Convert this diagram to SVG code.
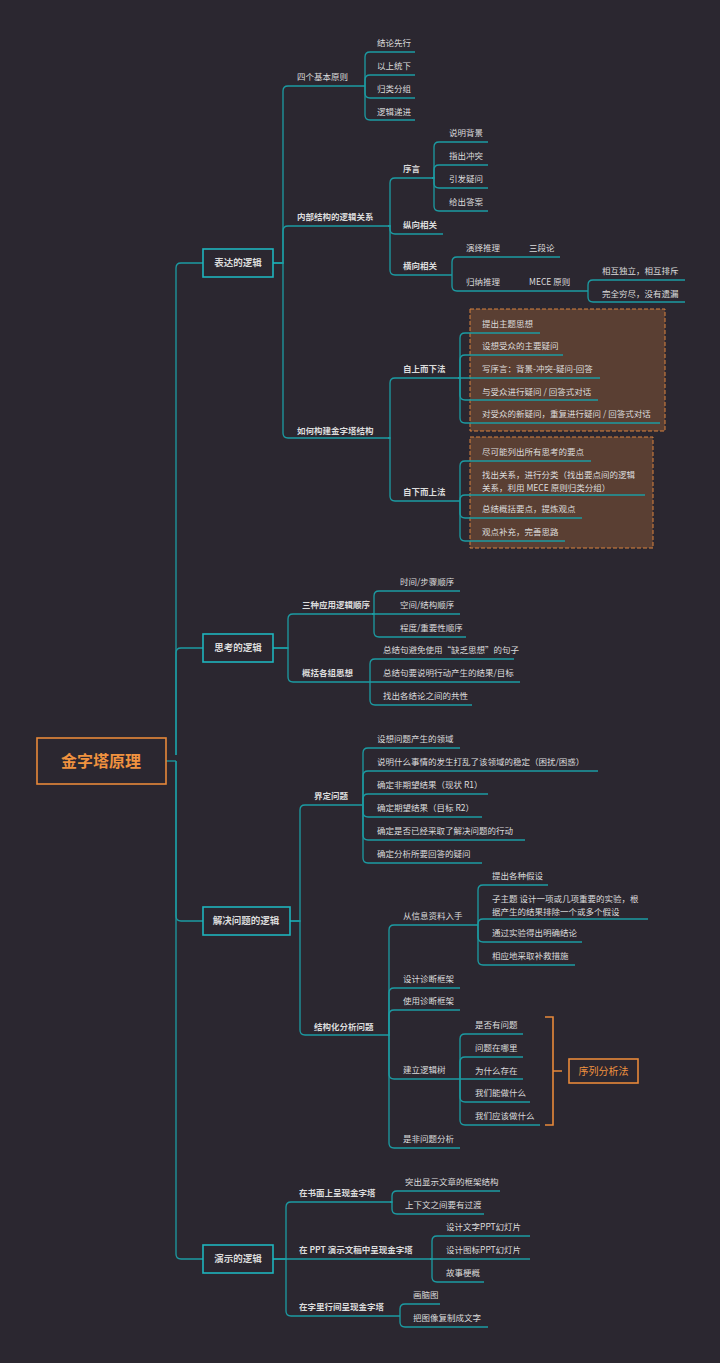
<svg xmlns="http://www.w3.org/2000/svg" width="720" height="1363" viewBox="0 0 720 1363">
<style>
text{font-family:"Noto Sans CJK SC","Noto Sans",sans-serif;font-size:8.5px;fill:#dcdcdc}
.b{font-weight:bold}
.c path{fill:none;stroke:#1c9ca3;stroke-width:1.3}
.l1 rect{fill:#2b2730;stroke:#1fb5bd;stroke-width:1.6}
.l1 text{font-size:9.5px;font-weight:bold;text-anchor:middle}
.dash{fill:#5a3f33;stroke:#d9833f;stroke-dasharray:4 2;stroke-width:1}
</style>
<rect width="720" height="1363" fill="#2b2730"/>
<rect class="dash" x="470" y="309" width="195" height="122"/>
<rect class="dash" x="470" y="437" width="183" height="111"/>
<g class="c">
<path d="M166 761H176"/>
<path d="M176 755V268Q176 263 181 263H203"/>
<path d="M176 755V653Q176 648 181 648H203"/>
<path d="M176 761V916Q176 921 181 921H203"/>
<path d="M176 761V1254Q176 1259 181 1259H203"/>
<path d="M273 263H283V91Q283 86 288 86H365"/>
<path d="M273 263H283V231Q283 226 288 226H388"/>
<path d="M273 263H283V433Q283 438 288 438H388"/>
<path d="M365 86V57Q365 52 370 52H415"/>
<path d="M365 86V80Q365 75 370 75H415"/>
<path d="M365 86V93Q365 98 370 98H415"/>
<path d="M365 86V115Q365 120 370 120H415"/>
<path d="M388 226H390V183Q390 178 395 178H432"/>
<path d="M388 226H390V229Q390 234 395 234H443"/>
<path d="M388 226H390V270Q390 275 395 275H452"/>
<path d="M432 178H434V147Q434 142 439 142H488"/>
<path d="M432 178H434V170Q434 165 439 165H488"/>
<path d="M432 178H434V183Q434 188 439 188H488"/>
<path d="M432 178H434V206Q434 211 439 211H488"/>
<path d="M452 275V262Q452 257 457 257H560"/>
<path d="M452 275V286Q452 291 457 291H588"/>
<path d="M588 291V285Q588 280 593 280H685"/>
<path d="M588 291V297Q588 302 593 302H685"/>
<path d="M388 438H390V383Q390 378 395 378H458"/>
<path d="M388 438H390V496Q390 501 395 501H460"/>
<path d="M458 378H460V338Q460 333 465 333H540"/>
<path d="M458 378H460V360Q460 355 465 355H563"/>
<path d="M458 378H600"/>
<path d="M458 378H460V395Q460 400 465 400H598"/>
<path d="M458 378H460V418Q460 423 465 423H660"/>
<path d="M460 501V466Q460 461 465 461H591"/>
<path d="M460 501V500Q460 495 465 495H645"/>
<path d="M460 501V513Q460 518 465 518H582"/>
<path d="M460 501V536Q460 541 465 541H565"/>
<path d="M273 648H288V619Q288 614 293 614H372"/>
<path d="M273 648H288V677Q288 682 293 682H370"/>
<path d="M372 614H374V596Q374 591 379 591H460"/>
<path d="M372 614H460"/>
<path d="M372 614H374V632Q374 637 379 637H466"/>
<path d="M370 682V664Q370 659 375 659H514"/>
<path d="M370 682H520"/>
<path d="M370 682V700Q370 705 375 705H472"/>
<path d="M290 921H300V810Q300 805 305 805H363"/>
<path d="M290 921H300V1030Q300 1035 305 1035H388"/>
<path d="M363 805V753Q363 748 368 748H460"/>
<path d="M363 805V776Q363 771 368 771H598"/>
<path d="M363 805V799Q363 794 368 794H488"/>
<path d="M363 805V812Q363 817 368 817H482"/>
<path d="M363 805V835Q363 840 368 840H525"/>
<path d="M363 805V858Q363 863 368 863H482"/>
<path d="M388 1035H389V930Q389 925 394 925H478"/>
<path d="M388 1035H389V993Q389 988 394 988H460"/>
<path d="M388 1035H389V1015Q389 1010 394 1010H460"/>
<path d="M388 1035H389V1074Q389 1079 394 1079H460"/>
<path d="M388 1035H389V1143Q389 1148 394 1148H460"/>
<path d="M478 925V890Q478 885 483 885H548"/>
<path d="M478 925V924Q478 919 483 919H648"/>
<path d="M478 925V937Q478 942 483 942H582"/>
<path d="M478 925V960Q478 965 483 965H575"/>
<path d="M460 1079V1039Q460 1034 465 1034H523"/>
<path d="M460 1079V1062Q460 1057 465 1057H523"/>
<path d="M460 1079H523"/>
<path d="M460 1079V1097Q460 1102 465 1102H530"/>
<path d="M460 1079V1120Q460 1125 465 1125H540"/>
<path d="M273 1259H286V1207Q286 1202 291 1202H390"/>
<path d="M273 1259H430"/>
<path d="M273 1259H286V1311Q286 1316 291 1316H400"/>
<path d="M390 1202H392V1196Q392 1191 397 1191H500"/>
<path d="M390 1202H392V1209Q392 1214 397 1214H484"/>
<path d="M430 1259H432V1241Q432 1236 437 1236H530"/>
<path d="M430 1259H530"/>
<path d="M430 1259H432V1277Q432 1282 437 1282H484"/>
<path d="M400 1316V1309Q400 1304 405 1304H440"/>
<path d="M400 1316V1322Q400 1327 405 1327H488"/>
</g>
<g id="root"><rect x="37" y="738" width="129" height="46" fill="#2b2730" stroke="#e8893a" stroke-width="1.6"/><text x="101" y="767" style="font-size:16px;font-weight:bold;fill:#f0923f;text-anchor:middle">金字塔原理</text></g>
<g id="n1" class="l1"><rect x="203" y="249" width="70" height="28"/><text x="238" y="266">表达的逻辑</text></g>
<g id="n2" class="l1"><rect x="203" y="634" width="70" height="28"/><text x="238" y="651">思考的逻辑</text></g>
<g id="n3" class="l1"><rect x="203" y="907" width="87" height="28"/><text x="246" y="924">解决问题的逻辑</text></g>
<g id="n4" class="l1"><rect x="203" y="1245" width="70" height="28"/><text x="238" y="1262">演示的逻辑</text></g>
<g id="t1">
<text x="297" y="80">四个基本原则</text>
<text x="377" y="46">结论先行</text><text x="377" y="69">以上统下</text><text x="377" y="92">归类分组</text><text x="377" y="115">逻辑递进</text>
<text class="b" x="297" y="220">内部结构的逻辑关系</text>
<text class="b" x="403" y="172">序言</text>
<text x="449" y="136">说明背景</text><text x="449" y="159">指出冲突</text><text x="449" y="182">引发疑问</text><text x="449" y="205">给出答案</text>
<text class="b" x="403" y="228">纵向相关</text>
<text class="b" x="403" y="269">横向相关</text>
<text x="466" y="251">演绎推理</text><text x="529" y="251">三段论</text>
<text x="466" y="285">归纳推理</text><text x="529" y="285">MECE 原则</text>
<text x="602" y="274">相互独立，相互排斥</text><text x="602" y="297">完全穷尽，没有遗漏</text>
<text class="b" x="297" y="434">如何构建金字塔结构</text>
<text class="b" x="403" y="372">自上而下法</text>
<text x="482" y="327">提出主题思想</text>
<text x="482" y="349">设想受众的主要疑问</text>
<text x="482" y="372">写序言：背景-冲突-疑问-回答</text>
<text x="482" y="395">与受众进行疑问 / 回答式对话</text>
<text x="482" y="417">对受众的新疑问，重复进行疑问 / 回答式对话</text>
<text class="b" x="403" y="495">自下而上法</text>
<text x="482" y="455">尽可能列出所有思考的要点</text>
<text x="482" y="478">找出关系，进行分类（找出要点间的逻辑</text>
<text x="482" y="491">关系，利用 MECE 原则归类分组）</text>
<text x="482" y="512">总结概括要点，提炼观点</text>
<text x="482" y="535">观点补充，完善思路</text>
</g>
<g id="t2">
<text class="b" x="302" y="608">三种应用逻辑顺序</text>
<text x="400" y="585">时间/步骤顺序</text><text x="400" y="608">空间/结构顺序</text><text x="400" y="631">程度/重要性顺序</text>
<text class="b" x="302" y="676">概括各组思想</text>
<text x="383" y="653">总结句避免使用“缺乏思想”的句子</text>
<text x="383" y="676">总结句要说明行动产生的结果/目标</text>
<text x="383" y="699">找出各结论之间的共性</text>
</g>
<g id="t3">
<text class="b" x="314" y="799">界定问题</text>
<text x="377" y="742">设想问题产生的领域</text>
<text x="377" y="765">说明什么事情的发生打乱了该领域的稳定（困扰/困惑）</text>
<text x="377" y="788">确定非期望结果（现状 R1）</text>
<text x="377" y="811">确定期望结果（目标 R2）</text>
<text x="377" y="834">确定是否已经采取了解决问题的行动</text>
<text x="377" y="857">确定分析所要回答的疑问</text>
<text class="b" x="314" y="1030">结构化分析问题</text>
<text x="403" y="919">从信息资料入手</text>
<text x="492" y="879">提出各种假设</text>
<text x="492" y="902">子主题 设计一项或几项重要的实验，根</text>
<text x="492" y="915">据产生的结果排除一个或多个假设</text>
<text x="492" y="936">通过实验得出明确结论</text>
<text x="492" y="959">相应地采取补救措施</text>
<text x="403" y="982">设计诊断框架</text>
<text x="403" y="1004">使用诊断框架</text>
<text x="403" y="1073">建立逻辑树</text>
<text x="475" y="1028">是否有问题</text><text x="475" y="1051">问题在哪里</text><text x="475" y="1074">为什么存在</text><text x="475" y="1096">我们能做什么</text><text x="475" y="1119">我们应该做什么</text>
<text x="403" y="1142">是非问题分析</text>
</g>
<g id="seq">
<path d="M545 1017H553V1125H545M553 1071H562" fill="none" stroke="#e8893a" stroke-width="1.6"/>
<rect x="569" y="1059" width="69" height="24" fill="#2b2730" stroke="#e8893a" stroke-width="1.6"/>
<text x="603.5" y="1075" style="font-size:10px;fill:#f0923f;text-anchor:middle">序列分析法</text>
</g>
<g id="t4">
<text class="b" x="299" y="1196">在书面上呈现金字塔</text>
<text x="405" y="1185">突出显示文章的框架结构</text><text x="405" y="1208">上下文之间要有过渡</text>
<text class="b" x="299" y="1253">在 PPT 演示文稿中呈现金字塔</text>
<text x="446" y="1230">设计文字PPT幻灯片</text><text x="446" y="1253">设计图标PPT幻灯片</text><text x="446" y="1276">故事梗概</text>
<text class="b" x="299" y="1310">在字里行间呈现金字塔</text>
<text x="413" y="1298">画脑图</text><text x="413" y="1321">把图像复制成文字</text>
</g>
</svg>
